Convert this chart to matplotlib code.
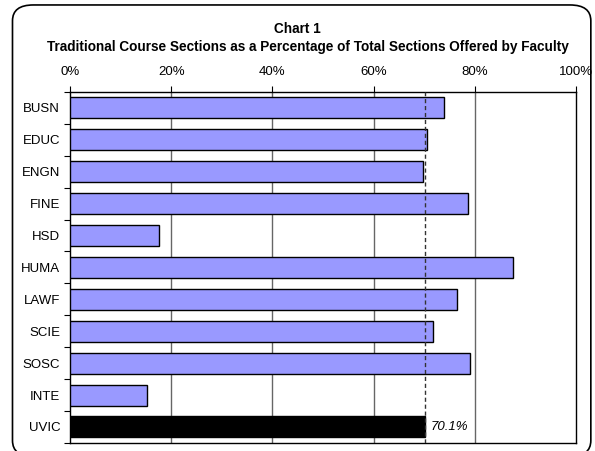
import matplotlib
matplotlib.use("Agg")
from matplotlib import pyplot as plt
from matplotlib.patches import FancyBboxPatch
from matplotlib.ticker import FixedLocator
import numpy as np

plt.rcParams['font.family'] = ['Liberation Sans', 'DejaVu Sans']

faculties = ['BUSN', 'EDUC', 'ENGN', 'FINE', 'HSD', 'HUMA', 'LAWF', 'SCIE', 'SOSC', 'INTE', 'UVIC']
pct = [73.9, 70.6, 69.8, 78.7, 17.5, 87.6, 76.4, 71.8, 79.1, 15.3, 70.1]
uvic_avg = 70.1
xticks = [0, 20, 40, 60, 80, 100]

fig = plt.figure(figsize=(5.95, 4.51), dpi=100)

# rounded frame round the whole chart (bottom edge just off the picture)
frame = FancyBboxPatch((0.021, -0.012), 0.972, 1.001, boxstyle="round,pad=0,rounding_size=0.035",
                       transform=fig.transFigure, fill=False, edgecolor='black', linewidth=1.2)
fig.patches.append(frame)

ax = fig.add_axes([0.1176, 0.018, 0.8504, 0.778])

y = np.arange(len(faculties))
colors = ['#9999ff'] * (len(faculties) - 1) + ['black']
ax.barh(y, pct, height=0.66, color=colors, edgecolor='black', linewidth=1.0, zorder=3)

ax.set_xlim(0, 100)
ax.set_ylim(len(faculties) - 0.5, -0.5)
ax.xaxis.tick_top()
ax.set_xticks(xticks)
ax.set_xticklabels([f'{v}%' for v in xticks], fontsize=9.5)
ax.tick_params(axis='x', direction='out', length=4, width=0.8, pad=6)
ax.set_yticks(y)
ax.set_yticklabels(faculties, fontsize=9.5)
ax.tick_params(axis='y', which='major', length=0, pad=7)
ax.yaxis.set_minor_locator(FixedLocator(np.arange(-0.5, len(faculties), 1)))
ax.tick_params(axis='y', which='minor', direction='out', length=4, width=0.8)

for v in xticks[1:-1]:
    ax.axvline(v, color='#666666', linewidth=1.0, zorder=1)
ax.axvline(uvic_avg, color='#333333', linewidth=1.0, linestyle=(0, (3, 2)), zorder=4)

ax.text(pct[-1] + 1.2, y[-1], f'{pct[-1]:.1f}%', fontsize=9.5, style='italic', va='center')

for s in ax.spines.values():
    s.set_linewidth(1.0)

fig.text(0.5, 0.936, 'Chart 1', ha='center', va='center', fontsize=9.8, fontweight='bold')
fig.text(0.517, 0.895, 'Traditional Course Sections as a Percentage of Total Sections Offered by Faculty',
         ha='center', va='center', fontsize=9.8, fontweight='bold')

fig.savefig('out.png', dpi=100)
